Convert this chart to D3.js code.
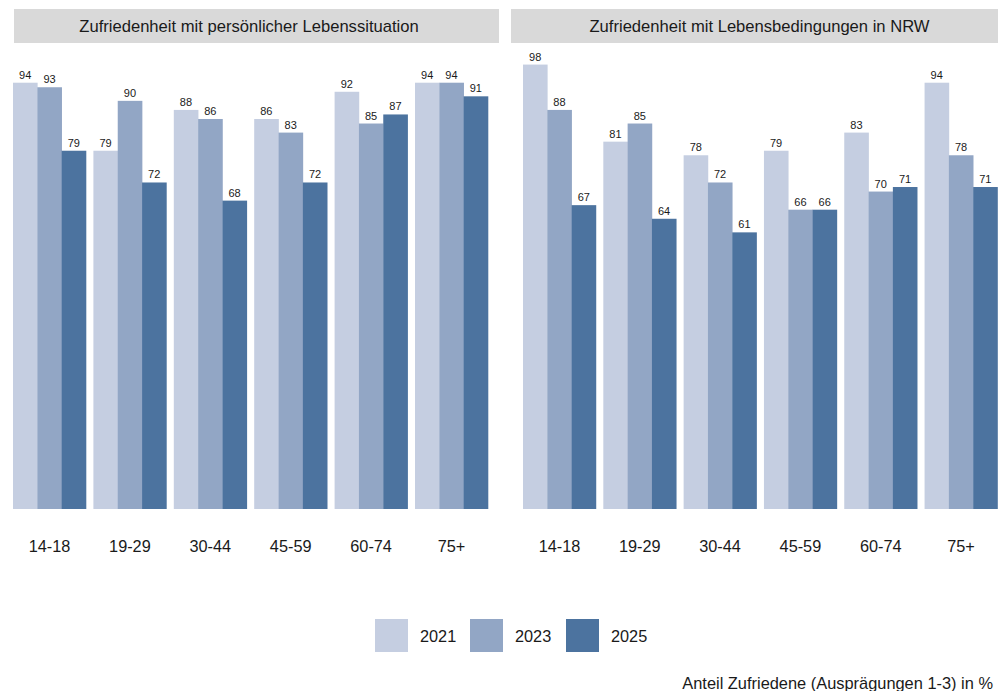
<!DOCTYPE html>
<html><head><meta charset="utf-8">
<script src="https://cdn.jsdelivr.net/npm/d3@7"></script>
<style>body{margin:0;background:#fff}svg{display:block;font-family:Arial,"Liberation Sans",sans-serif}</style>
</head><body><svg id="c" width="998" height="691"></svg>
<script>
const categories = ["14-18","19-29","30-44","45-59","60-74","75+"];
const years = ["2021","2023","2025"];
const panelTitles = ["Zufriedenheit mit persönlicher Lebenssituation","Zufriedenheit mit Lebensbedingungen in NRW"];
const personal2021 = [94,79,88,86,92,94];
const personal2023 = [93,90,86,83,85,94];
const personal2025 = [79,72,68,72,87,91];
const nrw2021 = [98,81,78,79,83,94];
const nrw2023 = [88,85,72,66,70,78];
const nrw2025 = [67,64,61,66,71,71];
const colors = ["#c5cee1","#92a6c5","#4c739f"];
const caption = "Anteil Zufriedene (Ausprägungen 1-3) in %";

const panels = [
  {title: panelTitles[0], series: [personal2021, personal2023, personal2025], range: [13, 488], strip: [14, 499], tx: 249},
  {title: panelTitles[1], series: [nrw2021, nrw2023, nrw2025], range: [523, 997.5], strip: [511, 998], tx: 759.5}
];
const svg = d3.select("#c");
const y = d3.scaleLinear().domain([0, 100]).range([509, 55.5]);
const color = d3.scaleOrdinal().domain(years).range(colors);

panels.forEach(p => {
  const g = svg.append("g");
  g.append("rect").attr("x", p.strip[0]).attr("y", 9).attr("width", p.strip[1]-p.strip[0]).attr("height", 34).attr("fill", "#d9d9d9");
  g.append("text").attr("x", p.tx).attr("y", 31.5).attr("text-anchor", "middle").attr("font-size", 16.6).attr("fill", "#1a1a1a").text(p.title);
  const x = d3.scaleBand().domain(categories).range(p.range).paddingInner(0.092).paddingOuter(0);
  const xi = d3.scaleBand().domain(years).range([0, x.bandwidth()]);
  const data = [];
  categories.forEach((c, i) => years.forEach((yr, j) => data.push({c, yr, v: p.series[j][i]})));
  g.selectAll("rect.bar").data(data).join("rect").attr("class","bar")
    .attr("x", d => x(d.c) + xi(d.yr)).attr("width", xi.bandwidth() + 0.3)
    .attr("y", d => y(d.v)).attr("height", d => y(0) - y(d.v)).attr("fill", d => color(d.yr));
  g.selectAll("text.lbl").data(data).join("text").attr("class","lbl")
    .attr("x", d => x(d.c) + xi(d.yr) + xi.bandwidth()/2).attr("y", d => y(d.v) - 4)
    .attr("text-anchor","middle").attr("font-size", 11).attr("fill","#1a1a1a").text(d => d.v);
  const ax = g.append("g").attr("transform", "translate(0,509)")
    .call(d3.axisBottom(x).tickSize(0).tickPadding(31));
  ax.select(".domain").remove();
  ax.selectAll("text").attr("font-size", 16.3).attr("fill", "#1a1a1a").attr("font-family", "Arial, 'Liberation Sans', sans-serif");
});

const lg = svg.append("g");
const lx = d3.scaleOrdinal().domain(years).range([375, 470, 566]);
years.forEach(yr => {
  lg.append("rect").attr("x", lx(yr)).attr("y", 619).attr("width", 33).attr("height", 33).attr("fill", color(yr));
  lg.append("text").attr("x", lx(yr) + 45).attr("y", 641.5).attr("font-size", 16.3).attr("fill", "#1a1a1a").text(yr);
});
svg.append("text").attr("x", 993).attr("y", 689).attr("text-anchor","end").attr("font-size", 16.4).attr("fill","#1a1a1a").text(caption);
</script></body></html>
